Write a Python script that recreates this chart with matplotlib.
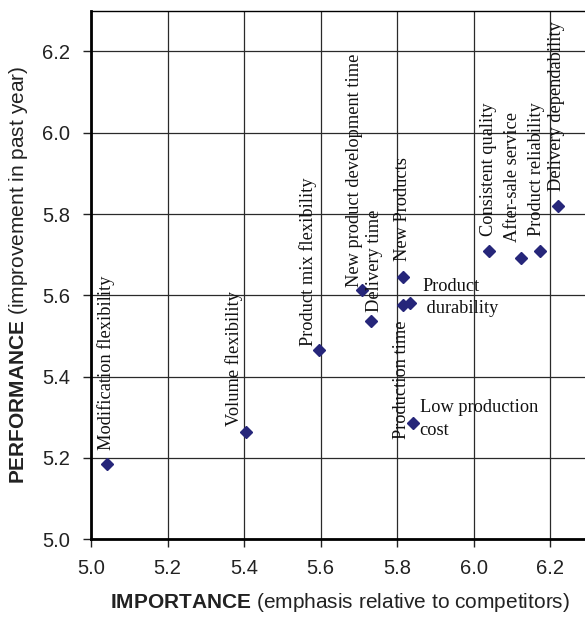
import numpy as np
import matplotlib
matplotlib.use("Agg")
import matplotlib.pyplot as plt

plt.rcParams['font.family'] = ['Liberation Sans', 'DejaVu Sans']
plt.rcParams['mathtext.fontset'] = 'custom'
plt.rcParams['mathtext.rm'] = 'Liberation Sans'
plt.rcParams['mathtext.bf'] = 'Liberation Sans:bold'

# capabilities: importance (x) vs performance (y)
names = ["Modification flexibility", "Volume flexibility", "Product mix flexibility",
         "New product development time", "Delivery time", "New Products",
         "Production time", "Product\n durability", "Low production\ncost",
         "Consistent quality", "After-sale service", "Product reliability",
         "Delivery dependability"]
importance = [5.041, 5.404, 5.596, 5.707, 5.731, 5.816, 5.814, 5.834, 5.840,
              6.041, 6.123, 6.172, 6.220]
performance = [5.186, 5.265, 5.466, 5.614, 5.538, 5.644, 5.575, 5.580, 5.286,
               5.709, 5.693, 5.709, 5.820]

xticks = [5.0, 5.2, 5.4, 5.6, 5.8, 6.0, 6.2]
yticks = [5.0, 5.2, 5.4, 5.6, 5.8, 6.0, 6.2]

# label placement: (dx px, dy px, rotation, ha, va)
label_pos = [(-1, 14, 90, 'center', 'bottom'),
             (-12, 6, 90, 'center', 'bottom'),
             (-11, 4, 90, 'center', 'bottom'),
             (-7, 3, 90, 'center', 'bottom'),
             (4, 9, 90, 'center', 'bottom'),
             (-1, 16, 90, 'center', 'bottom'),
             (-1, -15, 90, 'center', 'top'),
             (12, 6, 0, 'left', 'center'),
             (7, 4, 0, 'left', 'center'),
             (-1, 15, 90, 'center', 'bottom'),
             (-8, 16, 90, 'center', 'bottom'),
             (-3, 15, 90, 'center', 'bottom'),
             (-1, 15, 90, 'center', 'bottom')]

fig = plt.figure(figsize=(5.85, 6.17), dpi=100)
ax = fig.add_axes([91 / 585, 1 - 539.3 / 617, (588.6 - 91) / 585, (539.3 - 10.7) / 617])

ax.plot(importance, performance, 'D', color='#26267a', markersize=6, zorder=3, clip_on=False)

for name, x, y, (dx, dy, rot, ha, va) in zip(names, importance, performance, label_pos):
    ax.annotate(name, (x, y), xytext=(dx, dy), textcoords='offset pixels',
                rotation=rot, ha=ha, va=va, fontsize=13.2, family='Liberation Serif',
                color='#111111', linespacing=1.4)

ax.set_xlim(5.0, 6.3)
ax.set_ylim(5.0, 6.3)
ax.set_xticks(xticks)
ax.set_yticks(yticks)
ax.set_xticklabels(["%.1f" % v for v in xticks])
ax.set_yticklabels(["%.1f" % v for v in yticks])
ax.grid(True, color='#2a2a2a', linewidth=0.9)
ax.set_axisbelow(True)

ax.spines['left'].set_linewidth(2)
ax.spines['bottom'].set_linewidth(2)
ax.spines['top'].set_linewidth(1)
ax.spines['right'].set_visible(False)
ax.tick_params(axis='both', direction='out', length=6, width=1, labelsize=14.5, colors='#222222')
ax.tick_params(axis='x', pad=8)
ax.tick_params(axis='y', pad=9)

ax.set_xlabel(r"$\bf{IMPORTANCE}$ (emphasis relative to competitors)", fontsize=15, color='#222222')
ax.set_ylabel(r"$\bf{PERFORMANCE}$ (improvement in past year)", fontsize=15, color='#222222')
ax.xaxis.set_label_coords(0.5, -(602 - 539.3) / (539.3 - 10.7), transform=ax.transAxes)
ax.yaxis.set_label_coords(-(91 - 19) / (588.6 - 91), 0.5)
ax.xaxis.label.set_va('center')
ax.yaxis.label.set_va('center')

fig.savefig("out.png", dpi=100)
